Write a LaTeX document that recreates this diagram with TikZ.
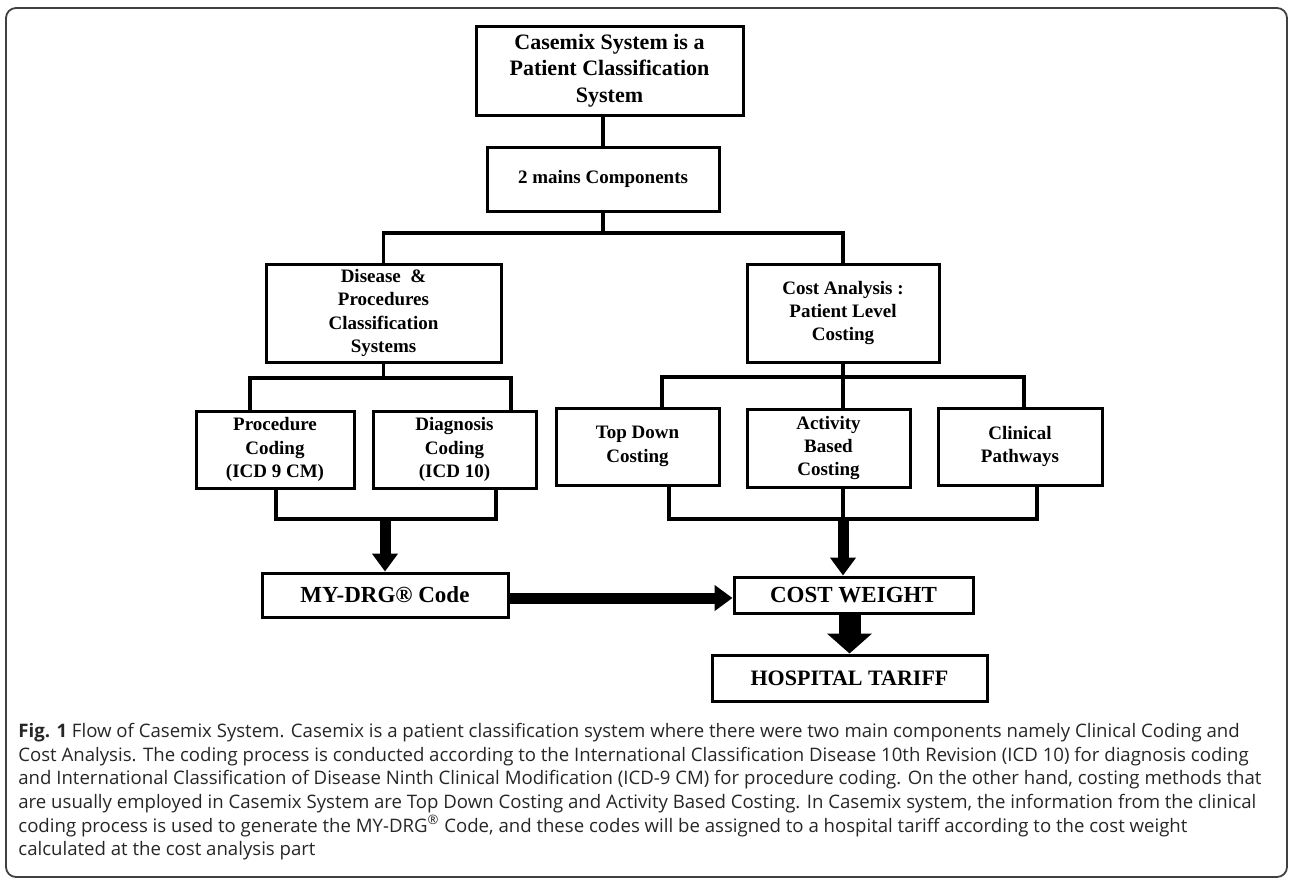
\documentclass[tikz,border=0pt]{standalone}
\usepackage{fontspec}
\setmainfont{Liberation Serif}
\newfontfamily\capfont{Open Sans}
\usetikzlibrary{arrows.meta}

\begin{document}
\begin{tikzpicture}[x=0.5pt,y=-0.5pt]
\tikzstyle{every node}+=[inner sep=0pt]
\tikzstyle{box}=[draw=black, line width=1.5pt, align=center, font=\bfseries\fontsize{9.5}{11.7}\selectfont]
\tikzstyle{conn}=[black, line width=1.75pt]
\tikzstyle{fat}=[black, line width=5.5pt, -{Triangle[length=9pt,width=12.5pt]}]
\tikzstyle{fatter}=[black, line width=11pt, -{Triangle[length=10pt,width=22pt]}]
\useasboundingbox (0,0) rectangle (1290,879);
\draw [black!75, line width=0.9pt, rounded corners=5pt] (6,8) rectangle (1287,877);
\node [box, minimum width=133.5pt, minimum height=44.5pt, font=\bfseries\fontsize{11}{13.3}\selectfont] (casemix) at (609.5,70.5) {Casemix System is a\\Patient Classification\\System};
\node [box, minimum width=116pt, minimum height=32pt] (mains) at (603,179) {2 mains Components};
\node [box, minimum width=117.5pt, minimum height=49pt] (disease) at (383.5,313) {Disease \ \&\\Procedures\\Classification\\Systems};
\node [box, minimum width=96pt, minimum height=49pt] (cost) at (843,313) {Cost Analysis :\\Patient Level\\Costing};
\node [box, minimum width=79pt, minimum height=38.5pt] (proc) at (275,449.5) {Procedure\\Coding\\(ICD 9 CM)};
\node [box, minimum width=81.5pt, minimum height=38.5pt] (diag) at (454.5,449.5) {Diagnosis\\Coding\\(ICD 10)};
\node [box, minimum width=81.5pt, minimum height=38.5pt] (topdown) at (637.5,446.5) {Top Down\\Costing};
\node [box, minimum width=81.5pt, minimum height=39pt] (activity) at (828.5,448) {Activity\\Based\\Costing};
\node [box, minimum width=82pt, minimum height=38.5pt] (clinical) at (1020,446.5) {Clinical\\Pathways};
\node [box, minimum width=123pt, minimum height=22pt, font=\bfseries\fontsize{11.5}{13}\selectfont] (mydrg) at (385,595) {MY-DRG® Code};
\node [box, minimum width=119.5pt, minimum height=18pt, font=\bfseries\fontsize{11.5}{13}\selectfont] (weight) at (853.5,595) {COST WEIGHT};
\node [box, minimum width=137.5pt, minimum height=23pt, font=\bfseries\fontsize{11}{13}\selectfont] (tariff) at (849.5,678) {HOSPITAL TARIFF};
\coordinate (top) at (603,233);
\coordinate (left) at (383.5,378);
\coordinate (right) at (843,377);
\coordinate (lj) at (385,519);
\coordinate (rj) at (843,519);
\draw [conn] (mains.north) -- (mains.north |- casemix.south);
\draw [conn] (mains.south) -- (top);
\draw [conn] (disease.north) |- (top) -| (cost.north);
\draw [conn] (disease.south) -- (left);
\draw [conn] ([shift={(-25,0)}]proc.north) |- (left) -| ([shift={(56.5,0)}]diag.north);
\draw [conn] (cost.south) -- (right) -- ([shift={(14.5,0)}]activity.north);
\draw [conn] ([shift={(24.5,0)}]topdown.north) |- (right) -| ([shift={(4,0)}]clinical.north);
\draw [conn] ([shift={(1,0)}]proc.south) |- (lj) -| ([shift={(41.5,0)}]diag.south);
\draw [conn] ([shift={(31.5,0)}]topdown.south) |- (rj) -| ([shift={(17,0)}]clinical.south);
\draw [conn] ([shift={(14.5,0)}]activity.south) -- (rj);
\draw [fat] (lj) -- (mydrg.north);
\draw [fat] (rj) -- (rj |- weight.north);
\draw [fat] ([yshift=-1.5pt]mydrg.east) -- ([yshift=-1.5pt]weight.west);
\draw [fatter] (weight.south -| tariff.north) -- (tariff.north);
\node [anchor=north west, align=left, text=black!85, font=\capfont\fontsize{9.3}{11.8}\selectfont] (caption) at (18,723) {\textbf{Fig. 1} Flow of Casemix System. Casemix is a patient classification system where there were two main components namely Clinical Coding and\\
Cost Analysis. The coding process is conducted according to the International Classification Disease 10th Revision (ICD 10) for diagnosis coding\\
and International Classification of Disease Ninth Clinical Modification (ICD-9 CM) for procedure coding. On the other hand, costing methods that\\
are usually employed in Casemix System are Top Down Costing and Activity Based Costing. In Casemix system, the information from the clinical\\
coding process is used to generate the MY-DRG\textsuperscript{®} Code, and these codes will be assigned to a hospital tariff according to the cost weight\\
calculated at the cost analysis part};
\end{tikzpicture}
\end{document}
